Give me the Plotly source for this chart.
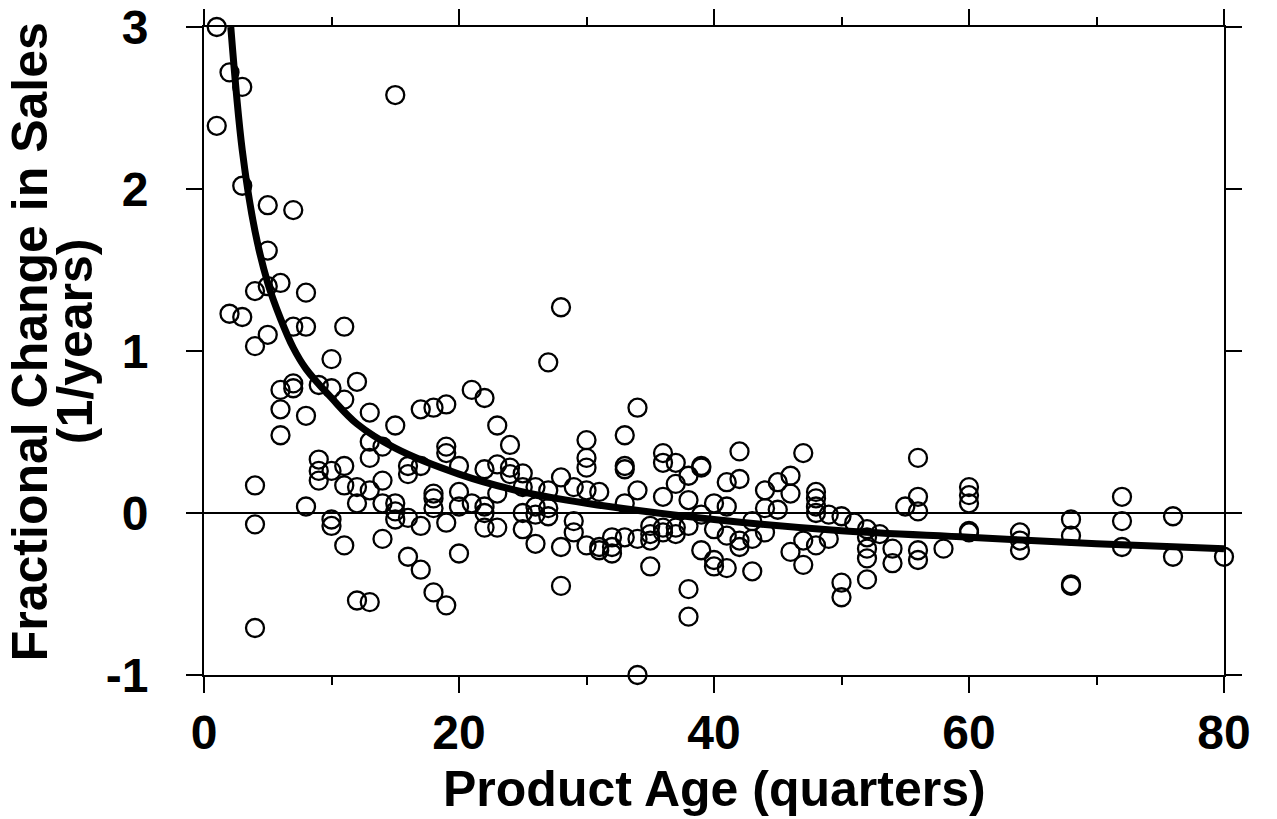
import plotly.graph_objects as go

# ---- scatter data: product age (quarters) vs fractional change in sales (1/years)
age = [
    1, 2, 3, 15, 1, 3, 5, 7, 5, 4, 5, 6, 8, 2, 3, 7, 8, 11, 5, 4, 10,
    12, 6, 7, 7, 9, 10, 11, 6, 8, 13, 15, 17, 18, 19, 6, 13, 14, 19, 19, 13,
    9, 9, 9, 10, 11, 11, 12, 13, 14, 16, 16, 17, 18, 18, 18, 4, 8, 12, 14,
    15, 15, 15, 16, 17, 19, 4, 10, 10, 11, 14, 16, 17, 18, 19, 12, 13, 4,
    27, 21, 22, 34, 23, 33, 24, 30, 36, 36, 37, 39, 39, 30, 30, 33, 33, 28,
    20, 22, 23, 24, 24, 25, 20, 21, 22, 22, 23, 25, 26, 27, 25, 25, 26, 26,
    27, 27, 29, 29, 29, 30, 31, 33, 34, 36, 20, 22, 23, 20, 26, 28, 28, 30,
    31, 31, 32, 32, 32, 33, 34, 35, 35, 35, 35, 36, 36, 37, 37, 38, 39, 40,
    38, 37, 38, 38, 38, 34, 28,
    42, 47, 56, 41, 42, 44, 45, 46, 46, 48, 48, 48, 48, 56, 56, 55, 41, 44,
    45, 49, 50, 51, 52, 52, 43, 40, 41, 42, 42, 43, 44, 46, 47, 48, 49, 39,
    40, 40, 41, 43, 47, 52, 52, 52, 50, 50, 54, 54, 56, 56, 58, 53,
    60, 60, 60, 60, 60, 64, 64, 64, 68, 68, 68, 68, 72, 72, 72, 76, 76, 80,
]
change = [
    3.00, 2.72, 2.63, 2.58, 2.39, 2.02, 1.90, 1.87, 1.62, 1.37, 1.40, 1.42, 1.36, 1.23, 1.21, 1.15, 1.15, 1.15, 1.10, 1.03, 0.95,
    0.81, 0.76, 0.80, 0.77, 0.79, 0.77, 0.70, 0.64, 0.60, 0.62, 0.54, 0.64, 0.65, 0.67, 0.48, 0.44, 0.41, 0.41, 0.37, 0.34,
    0.33, 0.26, 0.20, 0.26, 0.29, 0.17, 0.16, 0.14, 0.20, 0.29, 0.24, 0.29, 0.12, 0.09, 0.03, 0.17, 0.04, 0.06, 0.06,
    0.06, 0.01, -0.04, -0.03, -0.08, -0.06, -0.07, -0.04, -0.08, -0.20, -0.16, -0.27, -0.35, -0.49, -0.57, -0.54, -0.55, -0.71,
    0.93, 0.76, 0.71, 0.65, 0.54, 0.48, 0.42, 0.45, 0.37, 0.31, 0.31, 0.29, 0.28, 0.34, 0.28, 0.29, 0.27, 0.22,
    0.29, 0.27, 0.30, 0.28, 0.24, 0.245, 0.13, 0.06, 0.04, 0.00, 0.12, 0.16, 0.16, 0.14, 0.00, -0.10, 0.04, -0.01,
    0.03, -0.02, 0.16, -0.05, -0.12, 0.14, 0.13, 0.06, 0.14, 0.10, 0.04, -0.09, -0.09, -0.25, -0.19, -0.21, -0.45, -0.20,
    -0.21, -0.23, -0.15, -0.21, -0.25, -0.15, -0.16, -0.08, -0.13, -0.17, -0.33, -0.09, -0.12, -0.09, -0.13, -0.08, -0.01, 0.06,
    0.08, 0.18, 0.23, -0.47, -0.64, -1.00, 1.27,
    0.38, 0.37, 0.34, 0.19, 0.21, 0.14, 0.19, 0.23, 0.12, 0.13, 0.09, 0.04, 0.00, 0.10, 0.01, 0.04, 0.04, 0.03,
    0.02, -0.01, -0.02, -0.06, -0.10, -0.15, -0.05, -0.10, -0.14, -0.17, -0.21, -0.16, -0.12, -0.24, -0.17, -0.20, -0.16, -0.23,
    -0.29, -0.33, -0.34, -0.36, -0.32, -0.22, -0.28, -0.41, -0.43, -0.52, -0.22, -0.31, -0.23, -0.29, -0.22, -0.13,
    0.16, 0.11, 0.06, -0.11, -0.12, -0.12, -0.17, -0.23, -0.04, -0.14, -0.44, -0.45, 0.10, -0.05, -0.21, -0.02, -0.27, -0.27,
]

# ---- fitted curve, values
fit_age = [2.1, 3, 4, 5, 6, 7, 8, 10, 12, 15, 20, 25, 30, 40, 50, 60, 70, 80]
fit_change = [3.00, 2.24, 1.74, 1.42, 1.20, 1.02, 0.89, 0.71, 0.55, 0.40, 0.24, 0.13, 0.06,
              -0.04, -0.11, -0.15, -0.19, -0.22]

x_ticks = [0, 20, 40, 60, 80]
x_ticktext = ["0", "20", "40", "60", "80"]
y_ticks = [-1, 0, 1, 2, 3]
y_ticktext = ["-1", "0", "1", "2", "3"]

FONT = "Liberation Sans, Arial, Helvetica, sans-serif"

fig = go.Figure()
fig.add_trace(go.Scatter(
    x=age, y=change, mode="markers", cliponaxis=False,
    marker=dict(symbol="circle-open", size=18, color="black", line=dict(width=2.3, color="black")),
    showlegend=False, hoverinfo="x+y",
))
fig.add_trace(go.Scatter(
    x=fit_age, y=fit_change, mode="lines", line=dict(color="black", width=7, shape="spline"),
    showlegend=False,
))

axis_common = dict(
    showline=True, linecolor="black", linewidth=2, mirror="ticks",
    ticks="outside", ticklen=16, tickwidth=2, tickcolor="black",
    showgrid=False, automargin=False, ticklabeloverflow="allow",
    tickfont=dict(family=FONT, size=48, color="black", weight="bold"),
)

fig.update_layout(
    width=1277, height=819,
    margin=dict(l=204, r=53, t=27, b=144),
    paper_bgcolor="white", plot_bgcolor="white",
    xaxis=dict(range=[0, 80], tickvals=x_ticks, ticktext=x_ticktext, zeroline=False,
               minor=dict(dtick=10, ticks="outside", ticklen=8, tickwidth=2, tickcolor="black", showgrid=False),
               ticklabelstandoff=-2, **axis_common),
    yaxis=dict(range=[-1, 3], tickvals=y_ticks, ticktext=y_ticktext,
               zeroline=True, zerolinecolor="black", zerolinewidth=1.5,
               ticklabelstandoff=28, **axis_common),
    annotations=[
        dict(text="Product Age (quarters)", xref="paper", yref="paper", x=0.5, y=-0.176,
             xanchor="center", yanchor="middle", showarrow=False,
             font=dict(family=FONT, size=50, color="black", weight="bold")),
        dict(text="Fractional Change in Sales", xref="paper", yref="paper", x=-0.1706, y=0.515,
             xanchor="center", yanchor="middle", textangle=-90, showarrow=False,
             font=dict(family=FONT, size=50, color="black", weight="bold")),
        dict(text="(1/years)", xref="paper", yref="paper", x=-0.1265, y=0.515,
             xanchor="center", yanchor="middle", textangle=-90, showarrow=False,
             font=dict(family=FONT, size=50, color="black", weight="bold")),
    ],
)

# remove the page's default 8px body margin so the figure fills the window exactly
fig.write_html("out.html", config={"displayModeBar": False},
               post_script="document.body.style.margin='0';document.body.style.overflow='hidden';")
